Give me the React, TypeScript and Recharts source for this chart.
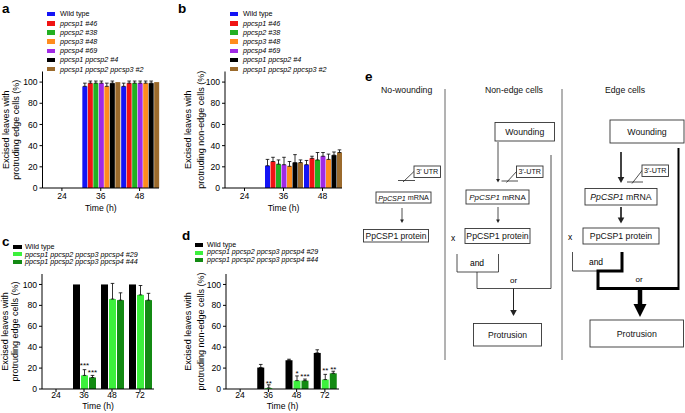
import React from "react";
import { BarChart, Bar, XAxis, YAxis, ErrorBar, LabelList, Legend } from "recharts";

const FONT = "'Liberation Sans', Arial, Helvetica, sans-serif";

// ---- panels a, b : single / double / triple mutants ----
const hoursAB = ["24", "36", "48"];
const singleLines = [
  "Wild type",
  "ppcsp1 #46",
  "ppcsp2 #38",
  "ppcsp3 #48",
  "ppcsp4 #69",
  "ppcsp1 ppcsp2 #4",
  "ppcsp1 ppcsp2 ppcsp3 #2",
];
const singleColors = ["#1414f5", "#f01414", "#22b022", "#ff8c1e", "#a02ae6", "#000000", "#9b6a2c"];
// the bars put ppcsp4 before ppcsp3
const singleBarOrder = [0, 1, 2, 4, 3, 5, 6];

const edgeMeans = [
  [0, 96, 96],
  [0, 99, 99],
  [0, 99, 99],
  [0, 96, 99],
  [0, 99, 99],
  [0, 99, 99],
  [0, 100, 100],
];
const edgeErrs = [
  [0, 3, 3],
  [0, 2, 2],
  [0, 2, 2],
  [0, 3, 2],
  [0, 2, 2],
  [0, 2, 2],
  [0, 0, 0],
];
const nonEdgeMeans = [
  [0, 21, 22],
  [0, 25, 28],
  [0, 22.5, 26.5],
  [0, 20.5, 27],
  [0, 22, 30],
  [0, 24, 31],
  [0, 24, 33.5],
];
const nonEdgeErrs = [
  [0, 6, 4],
  [0, 4, 2],
  [0, 4, 7],
  [0, 4.5, 5],
  [0, 7, 3.5],
  [0, 7.5, 3],
  [0, 2.5, 2.5],
];

// ---- panels c, d : quadruple mutants ----
const hoursCD = ["24", "36", "48", "72"];
const quadLines = ["Wild type", "ppcsp1 ppcsp2 ppcsp3 ppcsp4 #29", "ppcsp1 ppcsp2 ppcsp3 ppcsp4 #44"];
const quadColors = ["#000000", "#3cf03c", "#138a13"];
const quadBarOrder = [0, 1, 2];
const quadEdgeMeans = [
  [0, 100, 100, 100],
  [0, 13, 86, 90],
  [0, 11, 85, 85],
];
const quadEdgeErrs = [
  [0, 0, 0, 0],
  [0, 5.5, 15, 9],
  [0, 2, 7, 6.5],
];
const quadEdgeStars = [
  ["", "", "", ""],
  ["", "***", "", ""],
  ["", "***", "", ""],
];
const quadNonEdgeMeans = [
  [0, 20.5, 27.5, 34.5],
  [0, 1, 8, 9],
  [0, 0, 8, 15],
];
const quadNonEdgeErrs = [
  [0, 3, 1, 3],
  [0, 3, 4.5, 5],
  [0, 0, 1.5, 2],
];
const quadNonEdgeStars = [
  ["", "", "", ""],
  ["", "**", "*", "**"],
  ["", "**", "***", "**"],
];

const Y_MAX = 110;
const yTicks = [0, 20, 40, 60, 80, 100];

const Stars = (props: any) => {
  const { value, index, errs, unit, lift } = props;
  if (!value) return null;
  const vb = props.viewBox ?? props;
  const x = (vb.x ?? props.x) + (vb.width ?? props.width) / 2;
  const yTop = Math.min(vb.y, vb.y + vb.height);
  const top = yTop - (errs[index] || 0) * unit;
  return (
    <text x={x} y={top - lift} textAnchor="middle" fontSize={8} fill="#000">
      {value}
    </text>
  );
};

const YTitle = (props: any) => {
  const { lines, xs, cy } = props;
  return (
    <g>
      {lines.map((t: string, i: number) => (
        <text
          key={t}
          x={xs[i]}
          y={cy}
          transform={`rotate(-90 ${xs[i]} ${cy})`}
          textAnchor="middle"
          dominantBaseline="central"
          fontSize={9}
          fill="#000"
        >
          {t}
        </text>
      ))}
    </g>
  );
};

const GroupedBars = (p: any) => {
  const rows = p.hours.map((h: string, i: number) => {
    const row: Record<string, any> = { hour: h };
    p.order.forEach((k: number) => {
      row[`m${k}`] = p.means[k][i];
      row[`e${k}`] = p.errs[k][i] > 0 ? [0, p.errs[k][i]] : null;
      if (p.stars) row[`s${k}`] = p.stars[k][i];
    });
    return row;
  });
  const plotH = p.height - p.plotTop - p.xHeight;
  const unit = plotH / Y_MAX;

  return (
    <div style={{ position: "absolute", left: p.left, top: p.top }}>
      <BarChart
        width={p.width}
        height={p.height}
        data={rows}
        margin={{ top: p.plotTop, right: p.plotRight, left: 0, bottom: 0 }}
        barCategoryGap={p.catGap}
        barGap={p.barGap}
      >
        <XAxis
          dataKey="hour"
          height={p.xHeight}
          interval={0}
          tickSize={3}
          tickMargin={p.tickGap}
          tick={{ fontSize: 8.6, fill: "#000" }}
          tickLine={{ stroke: "#000" }}
          axisLine={{ stroke: "#000" }}
          label={{ value: "Time (h)", position: "insideBottom", offset: p.titleOffset, fontSize: 8.6, fill: "#000" }}
        />
        <YAxis
          width={p.yWidth}
          domain={[0, Y_MAX]}
          ticks={yTicks}
          interval={0}
          tickSize={3}
          tickMargin={2}
          tick={{ fontSize: 8.6, fill: "#000" }}
          tickLine={{ stroke: "#000" }}
          axisLine={{ stroke: "#000" }}
          label={<YTitle lines={p.yTitle} xs={p.yTitleX} cy={p.plotTop + plotH / 2} />}
        />
        {p.order.map((k: number) => (
          <Bar key={k} dataKey={`m${k}`} fill={p.colors[k]} isAnimationActive={false}>
            <ErrorBar dataKey={`e${k}`} direction="y" width={1.8} stroke="#000" strokeWidth={0.8} />
            {p.stars && (
              <LabelList
                dataKey={`s${k}`}
                content={<Stars errs={p.errs[k]} unit={unit} lift={p.starLift[k]} />}
              />
            )}
          </Bar>
        ))}
        <Legend
          layout="vertical"
          align="center"
          verticalAlign="middle"
          wrapperStyle={{ left: p.legendLeft, top: p.legendTop, width: "auto" }}
          content={() => (
            <div>
              {p.names.map((n: string, i: number) => (
                <div key={n} style={{ display: "flex", alignItems: "center", height: p.legendRow }}>
                  <span
                    style={{
                      display: "inline-block",
                      width: p.swatchW,
                      height: p.swatchH,
                      background: p.colors[i],
                      marginRight: p.textGap,
                    }}
                  />
                  <span
                    style={{
                      fontSize: p.legendFont,
                      fontStyle: i === 0 ? "normal" : "italic",
                      whiteSpace: "nowrap",
                      lineHeight: 1,
                      color: "#000",
                    }}
                  >
                    {n}
                  </span>
                </div>
              ))}
            </div>
          )}
        />
      </BarChart>
    </div>
  );
};

const Box = ({ x, y, w, h, size, children }: any) => (
  <g>
    <rect x={x} y={y} width={w} height={h} fill="#fff" stroke="#333" strokeWidth={0.9} />
    <text x={x + w / 2} y={y + h / 2} textAnchor="middle" dominantBaseline="central" fontSize={size} fill="#111">
      {children}
    </text>
  </g>
);

const Arrow = ({ x, y1, y2, w = 0.8, head = 4 }: any) => (
  <g>
    <line x1={x} y1={y1} x2={x} y2={y2 - head + 0.5} stroke="#222" strokeWidth={w} />
    <polygon points={`${x - head * 0.55},${y2 - head} ${x + head * 0.55},${y2 - head} ${x},${y2}`} fill="#222" />
  </g>
);

const Utr = ({ x, y, label, lx1, lx2, ly }: any) => (
  <g>
    <line x1={lx1} y1={ly} x2={lx2} y2={ly} stroke="#222" strokeWidth={0.8} />
    <line x1={lx1 + 5} y1={ly + 1.5} x2={x + 0.5} y2={y + 5} stroke="#222" strokeWidth={0.8} />
    <Box x={x} y={y} w={26.5} h={11.5} size={7.2}>
      {label}
    </Box>
  </g>
);

const Mrna = () => (
  <>
    <tspan fontStyle="italic">PpCSP1</tspan> mRNA
  </>
);

const Diagram = () => (
  <svg width={685} height={413} style={{ position: "absolute", left: 0, top: 0 }} fontFamily={FONT}>
    <g fontWeight="bold" fontSize={13.5} fill="#000">
      <text x={2} y={13}>a</text>
      <text x={178} y={13}>b</text>
      <text x={2} y={246}>c</text>
      <text x={182} y={240}>d</text>
      <text x={365} y={81}>e</text>
    </g>

    <g fontSize={8.7} textAnchor="middle" fill="#111">
      <text x={406.7} y={93}>No-wounding</text>
      <text x={514} y={93}>Non-edge cells</text>
      <text x={625} y={93}>Edge cells</text>
    </g>
    <line x1={445} y1={89} x2={445} y2={360} stroke="#555" strokeWidth={0.9} />
    <line x1={562} y1={89} x2={562} y2={360} stroke="#555" strokeWidth={0.9} />

    {/* no wounding */}
    <Utr x={414} y={166} label="3' UTR" lx1={398} lx2={415} ly={180.5} />
    <Box x={376} y={192} w={55} h={11} size={7.2}>
      <Mrna />
    </Box>
    <Arrow x={402} y1={208} y2={223} head={3.5} />
    <Box x={363.5} y={229.5} w={65} h={12.5} size={8.5}>
      PpCSP1 protein
    </Box>

    {/* non-edge cells */}
    <Box x={495} y={122.5} w={59.5} h={18.5} size={8.7}>
      Wounding
    </Box>
    <Arrow x={498} y1={142} y2={182.5} head={3.5} />
    <Utr x={516.5} y={166} label="3'-UTR" lx1={501.5} lx2={518} ly={181} />
    <Box x={466} y={190} w={63} h={14} size={8}>
      <Mrna />
    </Box>
    <Arrow x={498} y1={207} y2={223} head={3.5} />
    <text x={453} y={237.5} fontSize={8.5} textAnchor="middle" dominantBaseline="central">x</text>
    <Box x={465} y={228.5} w={65} h={15} size={8.7}>
      PpCSP1 protein
    </Box>
    <polyline points="457,254 457,272 498.5,272 498.5,254" fill="none" stroke="#222" strokeWidth={0.8} />
    <text x={477} y={263} fontSize={8.5} textAnchor="middle" dominantBaseline="central">and</text>
    <polyline points="477,272 477,288.5 551,288.5 551,155" fill="none" stroke="#222" strokeWidth={0.8} />
    <text x={513.5} y={280.5} fontSize={8} textAnchor="middle" dominantBaseline="central">or</text>
    <Arrow x={513.5} y1={288.5} y2={316} w={1} head={6} />
    <Box x={473.5} y={323.5} w={68} h={22.5} size={8.6}>
      Protrusion
    </Box>

    {/* edge cells */}
    <Box x={610} y={120} w={74} h={23} size={8.8}>
      Wounding
    </Box>
    <Arrow x={621} y1={152} y2={183} w={1.7} head={6} />
    <Utr x={642} y={165} label="3'-UTR" lx1={627} lx2={643} ly={182} />
    <Box x={585} y={188.5} w={72} h={16.5} size={8.7}>
      <Mrna />
    </Box>
    <Arrow x={621} y1={207} y2={223.5} w={1.7} head={6} />
    <text x={570} y={237} fontSize={8.5} textAnchor="middle" dominantBaseline="central">x</text>
    <Box x={583} y={228} w={76} h={16} size={8.7}>
      PpCSP1 protein
    </Box>
    <polyline points="572.5,252 572.5,271 620,271" fill="none" stroke="#222" strokeWidth={0.8} />
    <text x={596} y={262} fontSize={8.5} textAnchor="middle" dominantBaseline="central">and</text>
    <polyline
      points="622,252 622,271 598,271 598,288.5 678.5,288.5"
      fill="none"
      stroke="#000"
      strokeWidth={3}
      strokeLinejoin="miter"
    />
    <line x1={678.5} y1={290} x2={678.5} y2={148} stroke="#000" strokeWidth={2} />
    <text x={639} y={279.5} fontSize={8} textAnchor="middle" dominantBaseline="central">or</text>
    <line x1={640} y1={288.5} x2={640} y2={305} stroke="#000" strokeWidth={4.5} />
    <polygon points="633.5,304 646.5,304 640,317" fill="#000" />
    <Box x={590} y={320} w={93.5} h={27} size={8.8}>
      Protrusion
    </Box>
  </svg>
);

export default function App() {
  return (
    <div
      style={{
        position: "absolute",
        left: 0,
        top: 0,
        width: 685,
        height: 413,
        background: "#fff",
        fontFamily: FONT,
        overflow: "hidden",
      }}
    >
      <GroupedBars
        left={0}
        top={0}
        width={175}
        height={215}
        plotTop={71.5}
        plotRight={16}
        yWidth={42.5}
        xHeight={27}
        tickGap={2}
        titleOffset={4}
        catGap={1}
        barGap={0.5}
        hours={hoursAB}
        names={singleLines}
        colors={singleColors}
        order={singleBarOrder}
        means={edgeMeans}
        errs={edgeErrs}
        yTitle={["Excised leaves with", "protruding edge cells (%)"]}
        yTitleX={[6, 16]}
        legendLeft={47}
        legendTop={9.5}
        legendRow={9.2}
        legendFont={7.2}
        swatchW={8}
        swatchH={4.5}
        textGap={5}
      />
      <GroupedBars
        left={175}
        top={0}
        width={175}
        height={215}
        plotTop={71.5}
        plotRight={8}
        yWidth={50}
        xHeight={27}
        tickGap={2}
        titleOffset={4}
        catGap={1}
        barGap={0.5}
        hours={hoursAB}
        names={singleLines}
        colors={singleColors}
        order={singleBarOrder}
        means={nonEdgeMeans}
        errs={nonEdgeErrs}
        yTitle={["Excised leaves with", "protruding non-edge cells (%)"]}
        yTitleX={[13, 25.5]}
        legendLeft={55}
        legendTop={9.5}
        legendRow={9.2}
        legendFont={7.2}
        swatchW={8}
        swatchH={4.5}
        textGap={5}
      />
      <GroupedBars
        left={0}
        top={215}
        width={175}
        height={198}
        plotTop={59}
        plotRight={21}
        yWidth={42}
        xHeight={24}
        tickGap={0}
        titleOffset={4.5}
        catGap={3}
        barGap={1}
        hours={hoursCD}
        names={quadLines}
        colors={quadColors}
        order={quadBarOrder}
        means={quadEdgeMeans}
        errs={quadEdgeErrs}
        stars={quadEdgeStars}
        starLift={[0, 7.5, 2.5]}
        yTitle={["Excised leaves with", "protruding edge cells (%)"]}
        yTitleX={[5, 15]}
        legendLeft={13}
        legendTop={28}
        legendRow={7.5}
        legendFont={7.2}
        swatchW={8.5}
        swatchH={4}
        textGap={3.5}
      />
      <GroupedBars
        left={175}
        top={215}
        width={175}
        height={198}
        plotTop={59}
        plotRight={11}
        yWidth={51}
        xHeight={24}
        tickGap={0}
        titleOffset={4.5}
        catGap={3}
        barGap={1}
        hours={hoursCD}
        names={quadLines}
        colors={quadColors}
        order={quadBarOrder}
        means={quadNonEdgeMeans}
        errs={quadNonEdgeErrs}
        stars={quadNonEdgeStars}
        starLift={[0, 1.5, 1.5]}
        yTitle={["Excised leaves with", "protruding non-edge cells (%)"]}
        yTitleX={[13, 25.5]}
        legendLeft={20}
        legendTop={26.3}
        legendRow={7.5}
        legendFont={7.1}
        swatchW={8}
        swatchH={4}
        textGap={4}
      />
      <Diagram />
    </div>
  );
}
